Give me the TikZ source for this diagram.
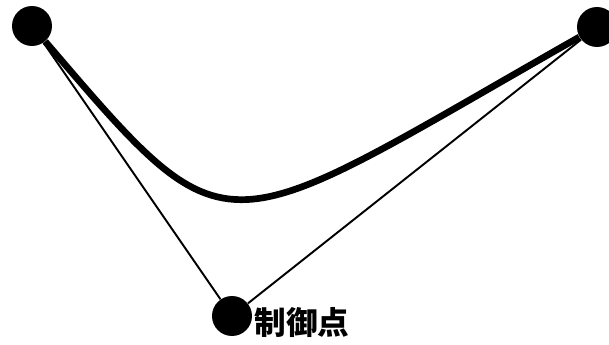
\documentclass[tikz,border=0pt]{standalone}
\usepackage{fontspec}
\newfontfamily\jpfont{Noto Sans CJK JP}
\usetikzlibrary{positioning}

\begin{document}
\begin{tikzpicture}[
  x=0.02cm, y=-0.02cm,
  node distance=0.04cm,
  dot/.style={circle, fill=black, inner sep=0pt, minimum size=0.8cm},
  hull/.style={draw=black, line width=1.1pt},
  curve/.style={draw=black, line width=3.8pt},
  tag/.style={font=\jpfont\bfseries\fontsize{18}{18}\selectfont, inner sep=0pt}
]
  \useasboundingbox (0,0) rectangle (609,345);

  % end points and control point
  \node[dot] (start) at (32,26) {};
  \node[dot] (end) at (597,27) {};
  \node[dot] (ctrl) at (232,316) {};

  % control polygon
  \draw[hull] (start) -- (ctrl) -- (end);

  % the curve
  \coordinate (c1) at (234,262);
  \coordinate (c2) at (215,244);
  \draw[curve] (start) .. controls (c1) and (c2) .. (end);

  \node[tag, right=of ctrl, yshift=-0.13cm] (ctrltag) {制御点};
\end{tikzpicture}
\end{document}
